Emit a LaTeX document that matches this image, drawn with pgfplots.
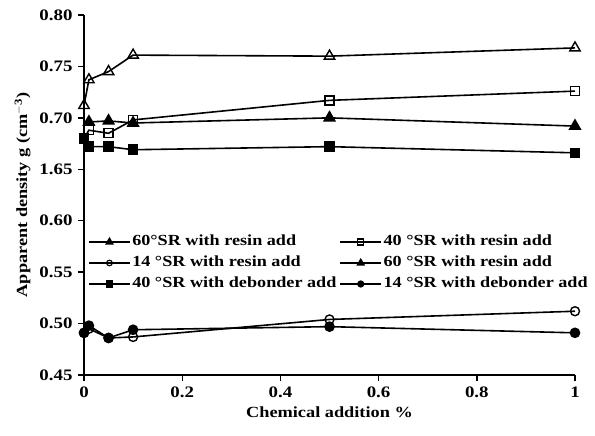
\documentclass[border=0pt]{standalone}
\usepackage{fontspec}
\setmainfont{Liberation Serif}[FakeStretch=1.18]
\usepackage{pgfplots}
\pgfplotsset{compat=1.18}
\begin{document}
\fontsize{16bp}{19bp}\selectfont\bfseries
\begin{tikzpicture}
\begin{axis}[
    at={(0,0)}, anchor=south west,
    scale only axis, width=491bp, height=360bp,
    xmin=0, xmax=1, ymin=0.45, ymax=0.80,
    axis lines*=left,
    axis line style={line width=1.6bp},
    tick align=outside,
    major tick length=6bp,
    tick style={line width=1.4bp, black},
    xtick={0,0.2,0.4,0.6,0.8,1},
    xticklabels={0,0.2,0.4,0.6,0.8,1},
    ytick={0.45,0.50,0.55,0.60,0.65,0.70,0.75,0.80},
    yticklabels={0.45,0.50,0.55,0.60,1.65,0.70,0.75,0.80},
    xlabel={Chemical addition \%},
    ylabel={Apparent density g (cm\textsuperscript{$-$3})},
    label style={font=\fontsize{15.5bp}{18bp}\selectfont\bfseries},
    xlabel style={yshift=2bp},
    ylabel style={yshift=-2bp},
    clip=false,
    every axis plot/.append style={line width=1.6bp, black},
    legend columns=2,
    legend cell align=left,
    legend style={draw=none, fill=none, at={(0.002,0.395)}, anchor=north west,
        font=\fontsize{15.4bp}{19bp}\selectfont\bfseries, row sep=7bp,
        nodes={inner sep=0pt, text height=11bp, text depth=3bp},
        /tikz/every odd column/.append style={column sep=1.5bp},
        /tikz/every even column/.append style={column sep=3bp}},
    legend image code/.code={
        \draw[#1] (0bp,0bp) -- (41bp,0bp);
        \draw[#1, only marks] plot coordinates {(20.5bp,0bp)};
    },
]
% open triangles
\addplot[mark=triangle, mark size=6bp, mark options={line width=1.4bp}, forget plot] coordinates {
    (0,0.712) (0.01,0.737) (0.05,0.745) (0.1,0.761) (0.5,0.760) (1,0.768)};
% open squares
\addplot[mark=square, mark size=4.5bp, mark options={line width=1.4bp}, forget plot] coordinates {
    (0,0.680) (0.01,0.688) (0.05,0.685) (0.1,0.698) (0.5,0.717) (1,0.726)};
% filled triangles
\addplot[mark=triangle*, mark size=6bp, forget plot] coordinates {
    (0.01,0.696) (0.05,0.697) (0.1,0.695) (0.5,0.700) (1,0.692)};
% filled squares
\addplot[mark=square*, mark size=4.5bp, forget plot] coordinates {
    (0,0.680) (0.01,0.672) (0.05,0.672) (0.1,0.669) (0.5,0.672) (1,0.666)};
% open circles
\addplot[mark=o, mark size=4.5bp, mark options={line width=1.4bp}, forget plot] coordinates {
    (0,0.491) (0.01,0.495) (0.05,0.486) (0.1,0.487) (0.5,0.504) (1,0.512)};
% filled circles
\addplot[mark=*, mark size=4.5bp, forget plot] coordinates {
    (0,0.491) (0.01,0.498) (0.05,0.486) (0.1,0.494) (0.5,0.497) (1,0.491)};

\addlegendimage{line width=1.6bp, mark=triangle*, mark size=3.5bp}
\addlegendentry{60°SR with resin add}
\addlegendimage{line width=1.6bp, mark=square, mark size=3bp, mark options={line width=1.2bp}}
\addlegendentry{40 °SR with resin add}
\addlegendimage{line width=1.6bp, mark=o, mark size=2.8bp, mark options={line width=1.2bp}}
\addlegendentry{14 °SR with resin add}
\addlegendimage{line width=1.6bp, mark=triangle*, mark size=3.5bp}
\addlegendentry{60 °SR with resin add}
\addlegendimage{line width=1.6bp, mark=square*, mark size=3bp}
\addlegendentry{40 °SR with debonder add}
\addlegendimage{line width=1.6bp, mark=*, mark size=2.8bp}
\addlegendentry{14 °SR with debonder add}
\end{axis}
\pgfresetboundingbox
\path (-84bp,-61bp) rectangle (511bp,375bp);
\end{tikzpicture}
\end{document}
